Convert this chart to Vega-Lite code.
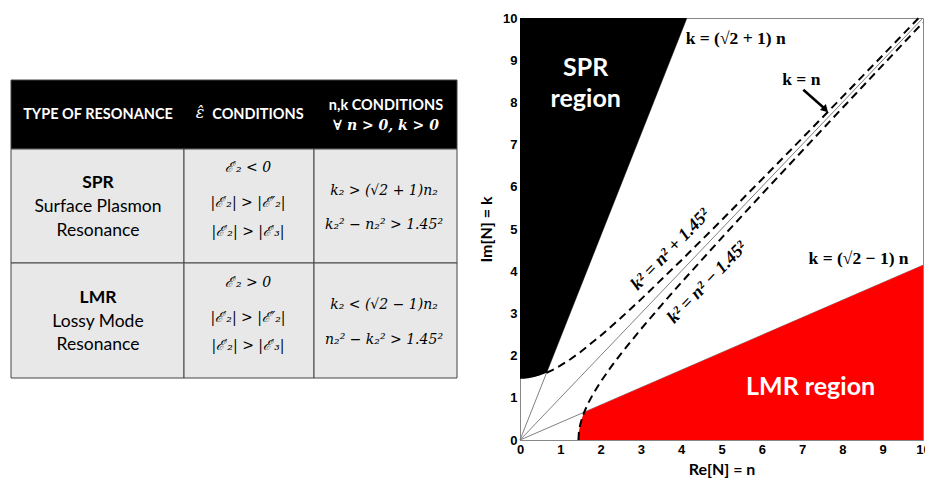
{
  "$schema": "https://vega.github.io/schema/vega-lite/v6.json",
  "background": "white",
  "padding": {"left": 10, "top": 11, "right": 0, "bottom": 0},
  "bounds": "flush",
  "spacing": 63,
  "config": {"view": {"stroke": "#888888", "strokeWidth": 1}},
  "datasets": {
    "cells": [
      {"part": "header", "x0": 0, "x1": 446, "y0": 62, "y1": 131},
      {"part": "body", "x0": 0, "x1": 173, "y0": 131, "y1": 245},
      {"part": "body", "x0": 173, "x1": 303, "y0": 131, "y1": 245},
      {"part": "body", "x0": 303, "x1": 446, "y0": 131, "y1": 245},
      {"part": "body", "x0": 0, "x1": 173, "y0": 245, "y1": 360},
      {"part": "body", "x0": 173, "x1": 303, "y0": 245, "y1": 360},
      {"part": "body", "x0": 303, "x1": 446, "y0": 245, "y1": 360}
    ],
    "headSans": [
      {"tx": 87, "ty": 97, "label": "TYPE OF RESONANCE"},
      {"tx": 247, "ty": 97, "label": "CONDITIONS"},
      {"tx": 375, "ty": 88, "label": "n,k CONDITIONS"}
    ],
    "headHat": [
      {"tx": 189, "ty": 95, "label": "ε̂"}
    ],
    "headMath": [
      {"tx": 375, "ty": 108, "label": "∀ n > 0, k > 0"}
    ],
    "bodyBold": [
      {"tx": 87, "ty": 165, "label": "SPR"},
      {"tx": 87, "ty": 280, "label": "LMR"}
    ],
    "bodySans": [
      {"tx": 87, "ty": 189, "label": "Surface Plasmon"},
      {"tx": 87, "ty": 213, "label": "Resonance"},
      {"tx": 87, "ty": 304, "label": "Lossy Mode"},
      {"tx": 87, "ty": 327, "label": "Resonance"}
    ],
    "bodyMath": [
      {"tx": 237, "ty": 150, "label": "ℰ′₂ < 0"},
      {"tx": 237, "ty": 185, "label": "|ℰ′₂| > |ℰ″₂|"},
      {"tx": 237, "ty": 214, "label": "|ℰ′₂| > |ℰ′₃|"},
      {"tx": 237, "ty": 265, "label": "ℰ′₂ > 0"},
      {"tx": 237, "ty": 300, "label": "|ℰ′₂| > |ℰ″₂|"},
      {"tx": 237, "ty": 328, "label": "|ℰ′₂| > |ℰ′₃|"},
      {"tx": 373, "ty": 173, "label": "k₂ > (√2 + 1)n₂"},
      {"tx": 373, "ty": 207, "label": "k₂² − n₂² > 1.45²"},
      {"tx": 373, "ty": 287, "label": "k₂ < (√2 − 1)n₂"},
      {"tx": 373, "ty": 322, "label": "n₂² − k₂² > 1.45²"}
    ],
    "rays": [
      {"n": 0, "k": 0, "n2": 4.142, "k2": 10},
      {"n": 0, "k": 0, "n2": 10, "k2": 10},
      {"n": 0, "k": 0, "n2": 10, "k2": 4.142}
    ],
    "spr": [
      {"n": 0, "k": 1.45, "k2": 10},
      {"n": 0.1, "k": 1.453, "k2": 10},
      {"n": 0.2, "k": 1.464, "k2": 10},
      {"n": 0.3, "k": 1.481, "k2": 10},
      {"n": 0.4, "k": 1.504, "k2": 10},
      {"n": 0.5, "k": 1.534, "k2": 10},
      {"n": 0.6, "k": 1.569, "k2": 10},
      {"n": 0.66, "k": 1.593, "k2": 10},
      {"n": 4.142, "k": 10, "k2": 10}
    ],
    "lmr": [
      {"n": 1.45, "k": 0, "k2": 0},
      {"n": 1.455, "k": 0, "k2": 0.12},
      {"n": 1.46, "k": 0, "k2": 0.171},
      {"n": 1.47, "k": 0, "k2": 0.242},
      {"n": 1.48, "k": 0, "k2": 0.297},
      {"n": 1.5, "k": 0, "k2": 0.384},
      {"n": 1.53, "k": 0, "k2": 0.488},
      {"n": 1.56, "k": 0, "k2": 0.575},
      {"n": 1.593, "k": 0, "k2": 0.66},
      {"n": 10, "k": 0, "k2": 4.142}
    ],
    "hyper": [
      {"curve": "plus", "n": 0.66, "k": 1.593},
      {"curve": "plus", "n": 0.8, "k": 1.656},
      {"curve": "plus", "n": 1.0, "k": 1.761},
      {"curve": "plus", "n": 1.25, "k": 1.914},
      {"curve": "plus", "n": 1.5, "k": 2.086},
      {"curve": "plus", "n": 2, "k": 2.47},
      {"curve": "plus", "n": 2.5, "k": 2.89},
      {"curve": "plus", "n": 3, "k": 3.332},
      {"curve": "plus", "n": 4, "k": 4.255},
      {"curve": "plus", "n": 5, "k": 5.206},
      {"curve": "plus", "n": 6, "k": 6.173},
      {"curve": "plus", "n": 7, "k": 7.149},
      {"curve": "plus", "n": 8, "k": 8.13},
      {"curve": "plus", "n": 9, "k": 9.116},
      {"curve": "plus", "n": 9.894, "k": 10},
      {"curve": "minus", "n": 1.45, "k": 0},
      {"curve": "minus", "n": 1.46, "k": 0.171},
      {"curve": "minus", "n": 1.48, "k": 0.297},
      {"curve": "minus", "n": 1.5, "k": 0.384},
      {"curve": "minus", "n": 1.55, "k": 0.548},
      {"curve": "minus", "n": 1.6, "k": 0.676},
      {"curve": "minus", "n": 1.7, "k": 0.887},
      {"curve": "minus", "n": 1.8, "k": 1.067},
      {"curve": "minus", "n": 2, "k": 1.378},
      {"curve": "minus", "n": 2.25, "k": 1.72},
      {"curve": "minus", "n": 2.5, "k": 2.037},
      {"curve": "minus", "n": 3, "k": 2.626},
      {"curve": "minus", "n": 3.5, "k": 3.186},
      {"curve": "minus", "n": 4, "k": 3.728},
      {"curve": "minus", "n": 5, "k": 4.785},
      {"curve": "minus", "n": 6, "k": 5.822},
      {"curve": "minus", "n": 7, "k": 6.848},
      {"curve": "minus", "n": 8, "k": 7.868},
      {"curve": "minus", "n": 9, "k": 8.882},
      {"curve": "minus", "n": 10, "k": 9.894}
    ],
    "regionLabels": [
      {"n": 1.63, "k": 8.82, "label": "SPR"},
      {"n": 1.63, "k": 8.07, "label": "region"},
      {"n": 7.21, "k": 1.25, "label": "LMR region"}
    ],
    "lineLabelsLeft": [
      {"n": 4.11, "k": 9.51, "label": "k = (√2 + 1) n"},
      {"n": 7.16, "k": 4.3, "label": "k = (√2 − 1) n"}
    ],
    "lineLabelsCenter": [
      {"n": 6.98, "k": 8.54, "label": "k = n"}
    ],
    "curveLabels": [
      {"n": 3.74, "k": 4.51, "label": "k² = n² + 1.45²"},
      {"n": 4.65, "k": 3.73, "label": "k² = n² − 1.45²"}
    ],
    "arrowShaft": [
      {"n": 7.03, "k": 8.3, "n2": 7.55, "k2": 7.86}
    ],
    "arrowHead": [
      {"n": 7.58, "k": 7.83}
    ]
  },
  "hconcat": [
    {
      "width": 446,
      "height": 422,
      "view": {"stroke": null},
      "encoding": {
        "x": {"field": "tx", "type": "quantitative", "scale": {"domain": [0, 446]}, "axis": null},
        "y": {"field": "ty", "type": "quantitative", "scale": {"domain": [0, 422], "reverse": true}, "axis": null}
      },
      "layer": [
        {
          "data": {"name": "cells"},
          "mark": {"type": "rect", "stroke": "#444444", "strokeWidth": 1},
          "encoding": {
            "x": {"field": "x0", "type": "quantitative", "scale": {"domain": [0, 446]}, "axis": null},
            "x2": {"field": "x1"},
            "y": {"field": "y0", "type": "quantitative", "scale": {"domain": [0, 422], "reverse": true}, "axis": null},
            "y2": {"field": "y1"},
            "fill": {"field": "part", "type": "nominal", "scale": {"domain": ["header", "body"], "range": ["#000000", "#e8e8e8"]}, "legend": null}
          }
        },
        {
          "data": {"name": "headSans"},
          "mark": {"type": "text", "font": "Lato", "fontWeight": "bold", "fontSize": 14.5, "color": "white", "align": "center", "baseline": "middle"},
          "encoding": {"text": {"field": "label"}}
        },
        {
          "data": {"name": "headHat"},
          "mark": {"type": "text", "font": "DejaVu Serif", "fontStyle": "italic", "fontSize": 16, "color": "white", "align": "center", "baseline": "middle"},
          "encoding": {"text": {"field": "label"}}
        },
        {
          "data": {"name": "headMath"},
          "mark": {"type": "text", "font": "DejaVu Serif", "fontWeight": "bold", "fontStyle": "italic", "fontSize": 14, "color": "white", "align": "center", "baseline": "middle"},
          "encoding": {"text": {"field": "label"}}
        },
        {
          "data": {"name": "bodyBold"},
          "mark": {"type": "text", "font": "Lato", "fontWeight": "bold", "fontSize": 17.5, "color": "black", "align": "center", "baseline": "middle"},
          "encoding": {"text": {"field": "label"}}
        },
        {
          "data": {"name": "bodySans"},
          "mark": {"type": "text", "font": "Lato", "fontSize": 17.5, "color": "black", "align": "center", "baseline": "middle"},
          "encoding": {"text": {"field": "label"}}
        },
        {
          "data": {"name": "bodyMath"},
          "mark": {"type": "text", "font": "DejaVu Serif", "fontStyle": "italic", "fontSize": 14, "color": "black", "align": "center", "baseline": "middle"},
          "encoding": {"text": {"field": "label"}}
        }
      ]
    },
    {
      "width": 403,
      "height": 422,
      "encoding": {
        "x": {"field": "n", "type": "quantitative", "scale": {"domain": [0, 10], "nice": false}, "axis": {"title": "Re[N] = n", "values": [0,1,2,3,4,5,6,7,8,9,10], "grid": false, "ticks": false, "labelPadding": 3, "labelFont": "Liberation Sans", "labelFontWeight": "bold", "labelFontSize": 13, "labelColor": "black", "domainColor": "#888888", "titleFont": "Lato", "titleFontWeight": "bold", "titleFontSize": 16, "titleColor": "black", "titlePadding": 5, "labelFlush": false}},
        "y": {"field": "k", "type": "quantitative", "scale": {"domain": [0, 10], "nice": false}, "axis": {"title": "Im[N] = k", "values": [0,1,2,3,4,5,6,7,8,9,10], "grid": false, "ticks": false, "labelPadding": 3, "labelFont": "Liberation Sans", "labelFontWeight": "bold", "labelFontSize": 13, "labelColor": "black", "domainColor": "#888888", "titleFont": "Lato", "titleFontWeight": "bold", "titleFontSize": 16, "titleColor": "black", "titlePadding": 8, "labelFlush": false}}
      },
      "layer": [
        {
          "data": {"name": "rays"},
          "mark": {"type": "rule", "color": "#808080", "strokeWidth": 1},
          "encoding": {"x2": {"field": "n2"}, "y2": {"field": "k2"}}
        },
        {
          "data": {"name": "spr"},
          "mark": {"type": "area", "color": "black", "opacity": 1},
          "encoding": {"y2": {"field": "k2"}}
        },
        {
          "data": {"name": "lmr"},
          "mark": {"type": "area", "color": "#ff0000", "opacity": 1},
          "encoding": {"y2": {"field": "k2"}}
        },
        {
          "data": {"name": "hyper"},
          "mark": {"type": "line", "color": "black", "strokeWidth": 2, "strokeDash": [8, 5]},
          "encoding": {"detail": {"field": "curve", "type": "nominal"}}
        },
        {
          "data": {"name": "regionLabels"},
          "mark": {"type": "text", "font": "Lato", "fontWeight": "bold", "fontSize": 25, "color": "white", "align": "center", "baseline": "middle"},
          "encoding": {"text": {"field": "label"}}
        },
        {
          "data": {"name": "lineLabelsLeft"},
          "mark": {"type": "text", "font": "Liberation Serif", "fontWeight": "bold", "fontSize": 17.5, "color": "black", "align": "left", "baseline": "middle"},
          "encoding": {"text": {"field": "label"}}
        },
        {
          "data": {"name": "lineLabelsCenter"},
          "mark": {"type": "text", "font": "Liberation Serif", "fontWeight": "bold", "fontSize": 17.5, "color": "black", "align": "center", "baseline": "middle"},
          "encoding": {"text": {"field": "label"}}
        },
        {
          "data": {"name": "curveLabels"},
          "mark": {"type": "text", "font": "Liberation Serif", "fontWeight": "bold", "fontStyle": "italic", "fontSize": 18, "color": "black", "align": "center", "baseline": "middle", "angle": -46},
          "encoding": {"text": {"field": "label"}}
        },
        {
          "data": {"name": "arrowShaft"},
          "mark": {"type": "rule", "color": "black", "strokeWidth": 2.5},
          "encoding": {"x2": {"field": "n2"}, "y2": {"field": "k2"}}
        },
        {
          "data": {"name": "arrowHead"},
          "mark": {"type": "point", "shape": "triangle-up", "filled": true, "color": "black", "size": 70, "angle": 135, "opacity": 1}
        }
      ]
    }
  ]
}
